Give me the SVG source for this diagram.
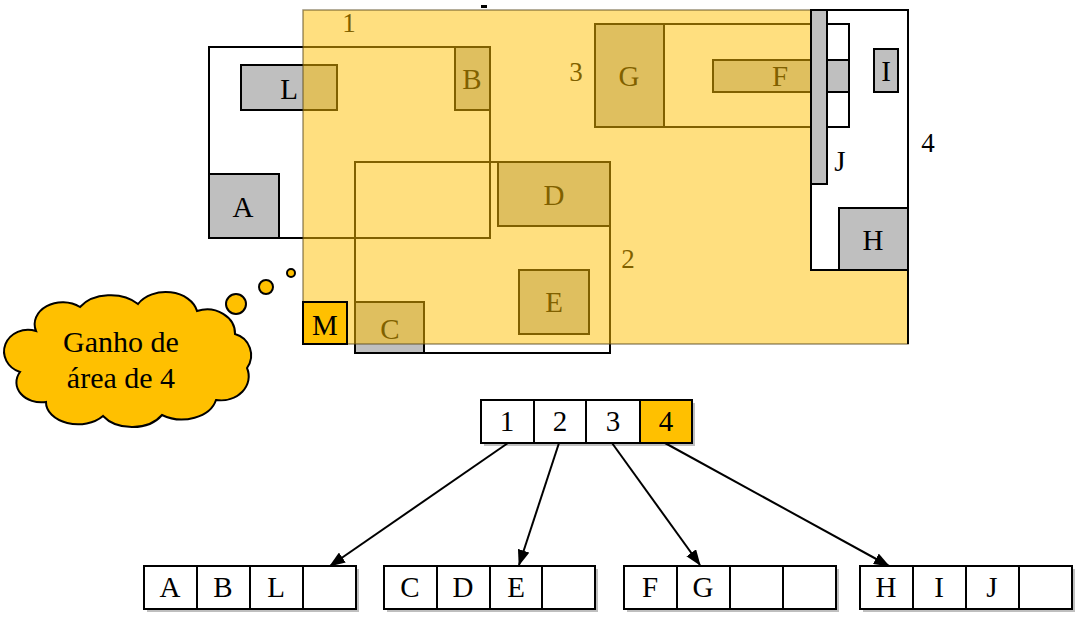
<svg xmlns="http://www.w3.org/2000/svg" width="1081" height="618" viewBox="0 0 1081 618" font-family="'Liberation Serif', 'DejaVu Serif', serif">
<style>
text{font-family:"Liberation Serif","DejaVu Serif",serif;fill:#000;text-anchor:middle}
.lbl{font-size:29px}
.rl{font-size:27px}
.reg{fill:none;stroke:#000;stroke-width:2}
.obj{fill:#BFBFBF;stroke:#000;stroke-width:2}
.cell{fill:#fff;stroke:#000;stroke-width:2}
.hl{fill:#FFC000;stroke:#000;stroke-width:2}
.sh{fill:#000;opacity:0.25}
.edge{stroke:#000;stroke-width:2;fill:none;marker-end:url(#ah)}
</style>
<defs>
<marker id="ah" markerWidth="16" markerHeight="12" refX="15" refY="6" orient="auto" markerUnits="userSpaceOnUse">
<path d="M0,0 L16,6 L0,12 Z" fill="#000"/>
</marker>
</defs>
<rect width="1081" height="618" fill="#fff"/>

<g id="spatial">
<g id="region1">
<rect class="reg" x="209" y="47" width="281" height="191"/>
<text class="rl" x="349" y="32">1</text>
</g>
<g id="region2">
<rect class="reg" x="355" y="162" width="255" height="191"/>
<text class="rl" x="628" y="268">2</text>
</g>
<g id="region3">
<rect class="reg" x="595" y="24" width="254" height="103"/>
<text class="rl" x="576" y="81">3</text>
</g>
<g id="L"><rect class="obj" x="241" y="65" width="96" height="45"/><text class="lbl" x="289" y="99">L</text></g>
<g id="B"><rect class="obj" x="455" y="47" width="35" height="63"/><text class="lbl" x="472" y="89">B</text></g>
<g id="A"><rect class="obj" x="209" y="174" width="70" height="64"/><text class="lbl" x="243" y="217">A</text></g>
<g id="D"><rect class="obj" x="498" y="162" width="112" height="64"/><text class="lbl" x="554" y="205">D</text></g>
<g id="E"><rect class="obj" x="519" y="270" width="70" height="64"/><text class="lbl" x="554" y="312">E</text></g>
<g id="C"><rect class="obj" x="355" y="302" width="69" height="51"/><text class="lbl" x="390" y="339">C</text></g>
<g id="G"><rect class="obj" x="595" y="24" width="69" height="103"/><text class="lbl" x="629" y="86">G</text></g>
<g id="F"><rect class="obj" x="713" y="60" width="136" height="32"/><text class="lbl" x="780" y="86">F</text></g>

<g id="overlay">
<path d="M303,10 L811,10 L811,270 L908,270 L908,344 L303,344 Z" fill="#FFC000" fill-opacity="0.5" stroke="#5a4a20" stroke-opacity="0.6" stroke-width="1.5"/>
</g>

<g id="region4">
<rect x="811" y="10" width="97" height="260" fill="#fff" stroke="#000" stroke-width="2"/>
<line x1="908" y1="270" x2="908" y2="344" stroke="#000" stroke-width="2"/>
<rect class="reg" x="811" y="24" width="38" height="103"/>
<rect class="obj" x="827" y="60" width="22" height="32"/>
<text class="rl" x="928" y="152">4</text>
</g>
<g id="J"><rect class="obj" x="811" y="10" width="16" height="174"/><text class="lbl" x="840" y="171">J</text></g>
<g id="I"><rect class="obj" x="874" y="49" width="24" height="43"/><text class="lbl" x="886" y="81">I</text></g>
<g id="H"><rect class="obj" x="839" y="208" width="69" height="62"/><text class="lbl" x="873" y="250">H</text></g>
<g id="M"><rect class="hl" x="303" y="302" width="44" height="42"/><text class="lbl" x="325" y="335">M</text></g>
<rect x="481" y="5" width="6" height="3" fill="#000"/>
</g>

<g id="cloud">
<circle cx="291" cy="273" r="4" fill="#FFC000" stroke="#000" stroke-width="2"/>
<circle cx="266" cy="287" r="7" fill="#FFC000" stroke="#000" stroke-width="2"/>
<circle cx="236" cy="304" r="10" fill="#FFC000" stroke="#000" stroke-width="2"/>
<path d="M36,331 A28,22 0 0 1 80,307 A36,25 0 0 1 138,304 A32,24 0 0 1 197,311 A28,24 0 0 1 235,334 A22,22 0 0 1 247,368 A28,24 0 0 1 216,400 A35,25 0 0 1 162,415 A35,25 0 0 1 103,416 A32,22 0 0 1 46,402 A25,20 0 0 1 20,372 A22,20 0 0 1 36,331 Z" fill="#FFC000" stroke="#000" stroke-width="2"/>
<text x="121" y="352" style="font-size:30px">Ganho de</text>
<text x="121" y="388" style="font-size:30px">área de 4</text>
</g>

<g id="root">
<rect class="sh" x="484" y="403" width="211" height="43"/>
<rect class="cell" x="481" y="400" width="53" height="43"/>
<rect class="cell" x="534" y="400" width="52" height="43"/>
<rect class="cell" x="586" y="400" width="54" height="43"/>
<rect class="hl" x="640" y="400" width="52" height="43"/>
<text class="lbl" x="507" y="431">1</text>
<text class="lbl" x="560" y="431">2</text>
<text class="lbl" x="613" y="431">3</text>
<text class="lbl" x="666" y="431">4</text>
</g>

<g id="leaf1">
<rect class="sh" x="147" y="569" width="212" height="43"/>
<rect class="cell" x="144" y="566" width="53" height="43"/>
<rect class="cell" x="197" y="566" width="53" height="43"/>
<rect class="cell" x="250" y="566" width="53" height="43"/>
<rect class="cell" x="303" y="566" width="53" height="43"/>
<text class="lbl" x="170" y="597">A</text>
<text class="lbl" x="223" y="597">B</text>
<text class="lbl" x="276" y="597">L</text>
</g>
<g id="leaf2">
<rect class="sh" x="387" y="569" width="211" height="43"/>
<rect class="cell" x="384" y="566" width="53" height="43"/>
<rect class="cell" x="437" y="566" width="53" height="43"/>
<rect class="cell" x="490" y="566" width="52" height="43"/>
<rect class="cell" x="542" y="566" width="53" height="43"/>
<text class="lbl" x="410" y="597">C</text>
<text class="lbl" x="463" y="597">D</text>
<text class="lbl" x="516" y="597">E</text>
</g>
<g id="leaf3">
<rect class="sh" x="627" y="569" width="212" height="43"/>
<rect class="cell" x="624" y="566" width="53" height="43"/>
<rect class="cell" x="677" y="566" width="53" height="43"/>
<rect class="cell" x="730" y="566" width="53" height="43"/>
<rect class="cell" x="783" y="566" width="53" height="43"/>
<text class="lbl" x="650" y="597">F</text>
<text class="lbl" x="703" y="597">G</text>
</g>
<g id="leaf4">
<rect class="sh" x="863" y="569" width="212" height="43"/>
<rect class="cell" x="860" y="566" width="53" height="43"/>
<rect class="cell" x="913" y="566" width="53" height="43"/>
<rect class="cell" x="966" y="566" width="53" height="43"/>
<rect class="cell" x="1019" y="566" width="53" height="43"/>
<text class="lbl" x="886" y="597">H</text>
<text class="lbl" x="939" y="597">I</text>
<text class="lbl" x="992" y="597">J</text>
</g>

<g id="connectors">
<line class="edge" x1="508" y1="443" x2="330" y2="566"/>
<line class="edge" x1="559" y1="443" x2="519" y2="565"/>
<line class="edge" x1="612" y1="443" x2="700" y2="565"/>
<line class="edge" x1="665" y1="443" x2="889" y2="566"/>
</g>
</svg>
